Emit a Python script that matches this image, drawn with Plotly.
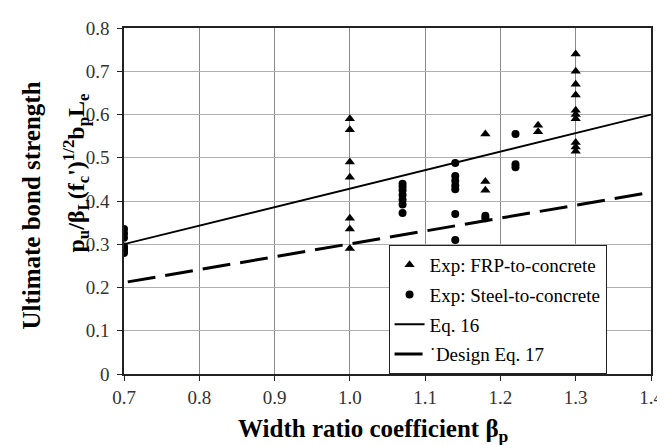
import plotly.graph_objects as go

# FRP-to-concrete (triangles)
frp_x = [1.0, 1.0, 1.0, 1.0, 1.0, 1.0, 1.0,
         1.18, 1.18, 1.18,
         1.25, 1.25,
         1.3, 1.3, 1.3, 1.3, 1.3, 1.3, 1.3, 1.3, 1.3, 1.3]
frp_y = [0.59, 0.565, 0.49, 0.455, 0.36, 0.335, 0.29,
         0.555, 0.445, 0.425,
         0.575, 0.56,
         0.74, 0.70, 0.67, 0.645, 0.61, 0.60, 0.59, 0.535, 0.525, 0.515]

# Steel-to-concrete (circles)
steel_x = [0.7, 0.7, 0.7, 0.7, 0.7, 0.7, 0.7,
           1.07, 1.07, 1.07, 1.07, 1.07, 1.07, 1.07,
           1.14, 1.14, 1.14, 1.14, 1.14, 1.14, 1.14,
           1.18, 1.18,
           1.22, 1.22, 1.22]
steel_y = [0.335, 0.325, 0.315, 0.295, 0.29, 0.285, 0.28,
           0.44, 0.433, 0.425, 0.414, 0.403, 0.392, 0.372,
           0.488, 0.458, 0.447, 0.436, 0.427, 0.37, 0.31,
           0.366, 0.36,
           0.555, 0.485, 0.478]

# Equation lines
eq_x = [0.7, 1.4]
eq16_y = [0.30, 0.60]
eq17_x = [0.705, 1.4]
eq17_y = [0.213, 0.42]

x_ticks = [0.7, 0.8, 0.9, 1.0, 1.1, 1.2, 1.3, 1.4]
x_tick_labels = ["0.7", "0.8", "0.9", "1.0", "1.1", "1.2", "1.3", "1.4"]
y_ticks = [0, 0.1, 0.2, 0.3, 0.4, 0.5, 0.6, 0.7, 0.8]
y_tick_labels = ["0", "0.1", "0.2", "0.3", "0.4", "0.5", "0.6", "0.7", "0.8"]

SERIF = "Liberation Serif, Times New Roman, serif"

fig = go.Figure()
fig.add_trace(go.Scatter(x=frp_x, y=frp_y, mode="markers", name="Exp: FRP-to-concrete",
                         legendgroup="a",
                         marker=dict(symbol="triangle-up", size=9, color="black")))
fig.add_trace(go.Scatter(x=steel_x, y=steel_y, mode="markers", name="Exp: Steel-to-concrete",
                         legendgroup="b",
                         marker=dict(symbol="circle", size=8, color="black")))
fig.add_trace(go.Scatter(x=eq_x, y=eq16_y, mode="lines", name="Eq. 16",
                         legendgroup="c",
                         line=dict(color="black", width=1.8)))
fig.add_trace(go.Scatter(x=eq17_x, y=eq17_y, mode="lines", name="˙Design Eq. 17",
                         legendgroup="d",
                         line=dict(color="black", width=3, dash="28px,10px")))

axis_common = dict(showline=True, linecolor="#222", linewidth=1.5, mirror=True,
                   showgrid=True, gridwidth=1,
                   ticks="outside", ticklen=5, tickcolor="#222",
                   tickfont=dict(family=SERIF, size=19, color="#333"), zeroline=False)

fig.update_xaxes(range=[0.7, 1.4], tickvals=x_ticks, ticktext=x_tick_labels,
                 ticklabelstandoff=0, gridcolor="#8a8a8a", **axis_common)
fig.update_yaxes(range=[0, 0.8], tickvals=y_ticks, ticktext=y_tick_labels,
                 ticklabelstandoff=4, gridcolor="#b0b0b0", **axis_common)

fig.add_annotation(text="<b>Width ratio coefficient β<sub>p</sub></b>",
                   xref="paper", yref="paper", x=0.474, y=-0.164, xanchor="center", yanchor="middle",
                   showarrow=False, font=dict(family=SERIF, size=25, color="black"))
fig.add_annotation(text="<b>Ultimate bond strength</b>", textangle=-90,
                   xref="paper", yref="paper", x=-0.175, y=0.486, xanchor="center", yanchor="middle",
                   showarrow=False, font=dict(family=SERIF, size=25, color="black"))
fig.add_annotation(text="<b>p<sub>u</sub>/β<sub>L</sub>(f<sub>c</sub>')<sup>1/2</sup>b<sub>p</sub>L<sub>e</sub></b>",
                   textangle=-90,
                   xref="paper", yref="paper", x=-0.092, y=0.581, xanchor="center", yanchor="middle",
                   showarrow=False, font=dict(family=SERIF, size=24, color="black"))

fig.update_layout(
    width=665, height=445,
    margin=dict(l=116, r=13, t=10, b=79),
    paper_bgcolor="white", plot_bgcolor="white",
    showlegend=True,
    legend=dict(x=0.502, y=0, xanchor="left", yanchor="bottom",
                bgcolor="white", bordercolor="#222", borderwidth=1,
                font=dict(family=SERIF, size=19, color="black"),
                itemwidth=30, tracegroupgap=2),
)

fig.write_html("out.html")
